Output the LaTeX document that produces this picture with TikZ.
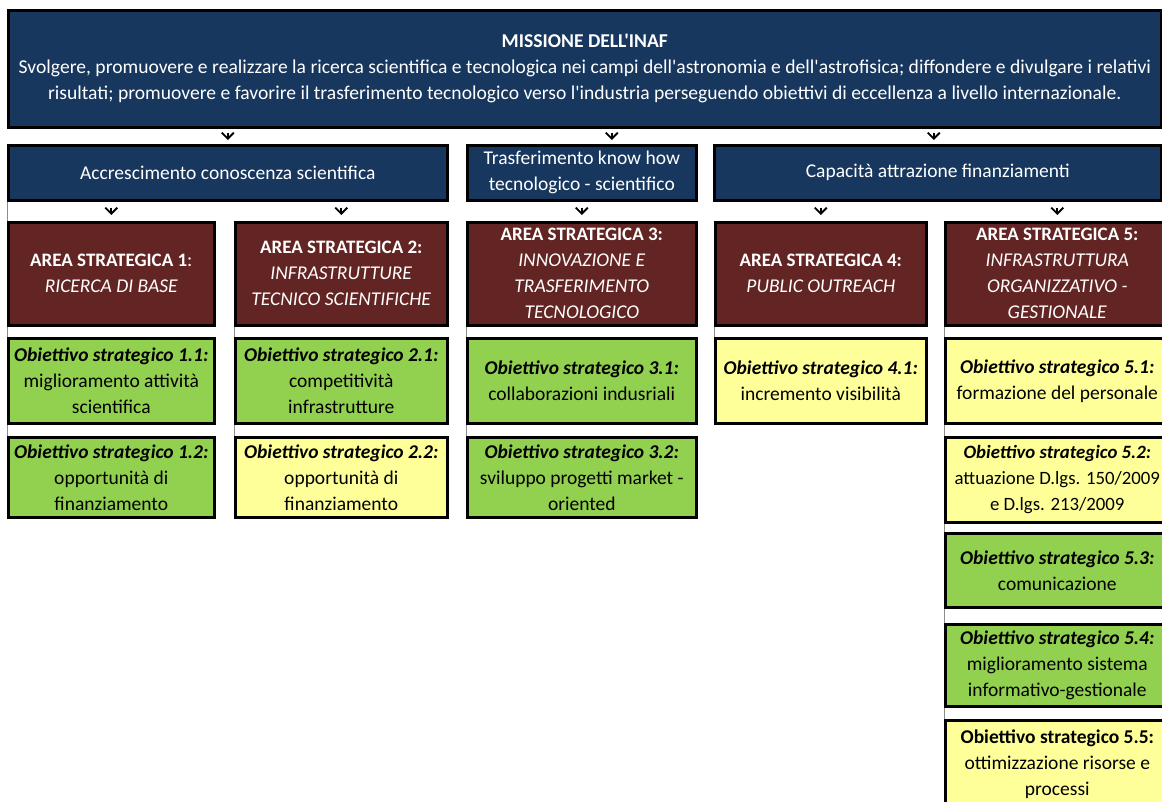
\documentclass[tikz,border=0pt]{standalone}
\usepackage{fontspec}
\setmainfont{Carlito}[Ligatures=TeXOff]
\usetikzlibrary{arrows.meta,positioning}

\definecolor{navy}{RGB}{23,55,94}
\definecolor{wine}{RGB}{99,37,35}
\definecolor{leaf}{RGB}{146,208,80}
\definecolor{lemon}{RGB}{255,255,153}

\tikzset{
  box/.style={draw=black, line width=2.6pt, inner sep=0pt, anchor=north west,
    align=center, font=\fontsize{19.5}{26}\selectfont},
  mission/.style={box, fill=navy, text=white},
  area/.style={box, fill=wine, text=white},
  goalg/.style={box, fill=leaf},
  goaly/.style={box, fill=lemon},
  arr/.style={-{Straight Barb[length=6pt,width=12pt]}, line width=1.9pt},
  seam/.style={black!45, line width=0.8pt}
}
\newcommand{\obj}[1]{\textbf{\textit{Obiettivo strategico #1:}}}
\newcommand{\areahead}[1]{{\fontsize{19}{26}\selectfont\textbf{AREA STRATEGICA #1}}}

\begin{document}
\begin{tikzpicture}[x=1pt,y=-1pt]
    \useasboundingbox (0,0) rectangle (1162,801);

    % Mission
    \node[mission, minimum width=1153pt, minimum height=117pt,
          font=\fontsize{19.6}{26}\selectfont] (mis) at (7,9)
      {\textbf{MISSIONE DELL'INAF}\\
       Svolgere, promuovere e realizzare la ricerca scientifica e tecnologica nei campi dell'astronomia e dell'astrofisica; diffondere e divulgare i relativi\\
       risultati; promuovere e favorire il trasferimento tecnologico verso l'industria perseguendo obiettivi di eccellenza a livello internazionale.};

    % Three lines of action
    \node[mission, minimum width=439pt, minimum height=55pt] (tA) at (7,144)
      {Accrescimento conoscenza scientifica};
    \node[mission, minimum width=229pt, minimum height=55pt] (tB) at (466,144)
      {Trasferimento know how\\tecnologico - scientifico};
    \node[mission, minimum width=447pt, minimum height=55pt] (tC) at (713,144)
      {Capacità attrazione finanziamenti};

    % Strategic areas
    \node[area, minimum width=206pt, minimum height=103pt] (a1) at (7,221)
      {\areahead{1}:\\\textit{RICERCA DI BASE}};
    \node[area, minimum width=212pt, minimum height=103pt] (a2) at (234,221)
      {\areahead{2:}\\\textit{INFRASTRUTTURE}\\\textit{TECNICO SCIENTIFICHE}};
    \node[area, minimum width=229pt, minimum height=103pt] (a3) at (466,221)
      {\areahead{3:}\\\textit{INNOVAZIONE E}\\\textit{TRASFERIMENTO}\\\textit{TECNOLOGICO}};
    \node[area, minimum width=211pt, minimum height=103pt] (a4) at (714,221)
      {\areahead{4:}\\\textit{PUBLIC OUTREACH}};
    \node[area, minimum width=224pt, minimum height=103pt] (a5) at (944,221)
      {\areahead{5:}\\\textit{INFRASTRUTTURA}\\\textit{ORGANIZZATIVO -}\\\textit{GESTIONALE}};

    % Strategic goals
    \node[goalg, minimum width=206pt, minimum height=85pt] (g11) at (7,337)
      {\obj{1.1}\\miglioramento attività\\scientifica};
    \node[goalg, minimum width=206pt, minimum height=80pt] (g12) at (7,436)
      {\obj{1.2}\\opportunità di\\finanziamento};
    \node[goalg, minimum width=212pt, minimum height=85pt] (g21) at (234,337)
      {\obj{2.1}\\competitività\\infrastrutture};
    \node[goaly, minimum width=212pt, minimum height=80pt] (g22) at (234,436)
      {\obj{2.2}\\opportunità di\\finanziamento};
    \node[goalg, minimum width=229pt, minimum height=85pt] (g31) at (466,337)
      {\obj{3.1}\\collaborazioni indusriali};
    \node[goalg, minimum width=229pt, minimum height=80pt] (g32) at (466,436)
      {\obj{3.2}\\sviluppo progetti market -\\oriented};
    \node[goaly, minimum width=211pt, minimum height=85pt] (g41) at (714,337)
      {\obj{4.1}\\incremento visibilità};
    \node[goaly, minimum width=224pt, minimum height=85pt] (g51) at (944,337)
      {\obj{5.1}\\formazione del personale};
    \node[goaly, minimum width=224pt, minimum height=85pt,
          font=\fontsize{18.8}{26}\selectfont] (g52) at (944,436)
      {\obj{5.2}\\attuazione D.lgs. 150/2009\\e D.lgs. 213/2009};
    \node[goalg, minimum width=224pt, minimum height=74pt] (g53) at (944,532)
      {\obj{5.3}\\comunicazione};
    \node[goalg, minimum width=224pt, minimum height=82pt] (g54) at (944,623)
      {\obj{5.4}\\miglioramento sistema\\informativo-gestionale};
    \node[goaly, minimum width=224pt, minimum height=88pt] (g55) at (944,719)
      {\textbf{Obiettivo strategico 5.5:}\\ottimizzazione risorse e\\processi};

    % Arrows
    \coordinate (inA) at (tA.north);
    \coordinate (inB) at ([xshift=30pt]tB.north);
    \coordinate (inC) at ([xshift=-4pt]tC.north);
    \foreach \c in {inA, inB, inC}
      \draw[arr] ([yshift=-4pt]mis.south -| \c) -- ([yshift=4pt]\c);
    \foreach \t/\a in {tA/a1, tA/a2, tB/a3, tC/a4, tC/a5}
      \draw[arr] ([yshift=-6pt]\t.south -| \a.north) -- ([yshift=6pt]\a.north);

    % Thin cell borders between boxes
    \draw[seam] (tA.south west) -- (a1.north west);
    \foreach \u/\v in {a1/g11, g11/g12, a2/g21, g21/g22, a3/g31, g31/g32,
                       a4/g41, a5/g51, g51/g52, g52/g53, g53/g54, g54/g55}
      \draw[seam] (\u.south west) -- (\v.north west);
\end{tikzpicture}
\end{document}
